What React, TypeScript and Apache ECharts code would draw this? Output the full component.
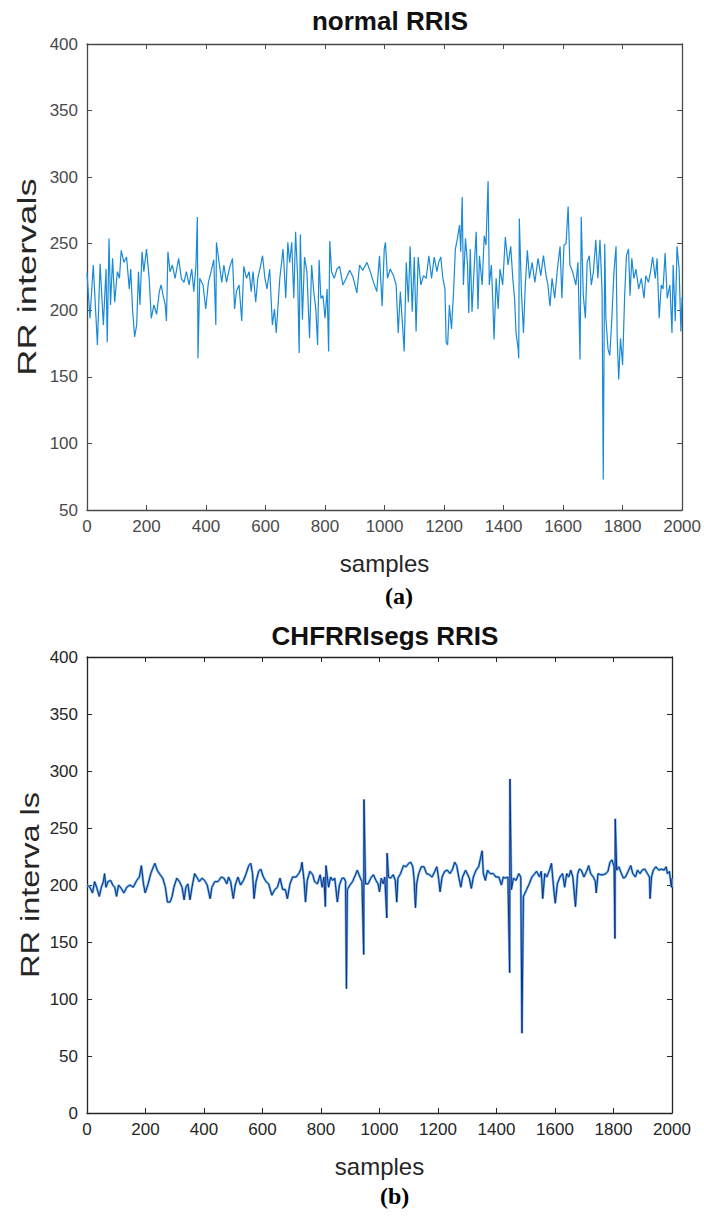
import React, { useEffect, useRef } from "react";
import * as echarts from "echarts";

// ---------- data ----------
const normalSamples = [
  0, 10, 21, 35, 44, 55, 64, 68, 74, 79, 86, 93, 102, 109, 115, 124, 133, 142, 147, 153,
  160, 167, 173, 178, 185, 191, 200, 209, 216, 225, 234, 243, 249, 256, 263, 267, 272, 279, 287, 296,
  308, 317, 326, 334, 343, 352, 359, 366, 371, 373, 379, 390, 399, 408, 417, 426, 433, 435, 444, 453,
  460, 469, 478, 489, 496, 502, 511, 520, 527, 536, 545, 552, 558, 567, 574, 581, 590, 598, 605, 614,
  623, 630, 636,
  648, 659, 668, 675, 681, 688, 695, 701, 708, 713, 717, 724, 731, 739, 748, 755, 762, 769, 775, 780,
  786, 793, 800, 807, 812, 816, 822, 831, 840, 849, 860, 871, 883, 894, 907, 916, 927, 941, 952, 963,
  974, 983, 992, 999, 1003, 1010, 1019, 1030, 1039, 1046, 1053, 1059, 1066, 1073, 1080, 1086, 1093, 1100, 1106, 1113,
  1122, 1131, 1140, 1149, 1158, 1167, 1176, 1182, 1189, 1196, 1203, 1207, 1212, 1218, 1225, 1232, 1238, 1245, 1252, 1256,
  1261, 1265, 1272, 1279, 1283, 1288, 1294, 1301, 1308, 1314,
  1319, 1328, 1335, 1341, 1348, 1352, 1359, 1364, 1368, 1375, 1382, 1388, 1397, 1406, 1415, 1424, 1431, 1437, 1442, 1449,
  1451, 1453, 1460, 1467, 1473, 1480, 1487, 1496, 1505, 1516, 1525, 1534, 1543, 1549, 1556, 1563, 1572, 1581, 1590, 1596,
  1603, 1610, 1617, 1623, 1632, 1643, 1650, 1657, 1661, 1668, 1675, 1681, 1688, 1695, 1702, 1710, 1717, 1724, 1731, 1735,
  1740, 1744, 1751, 1757, 1764, 1771, 1778, 1782, 1787, 1793, 1800, 1807, 1813, 1820, 1825, 1831, 1838, 1845, 1854, 1863,
  1872, 1878, 1887, 1894, 1901, 1910, 1916, 1923, 1930, 1936, 1943, 1950, 1959, 1966, 1970, 1977, 1983, 1990, 1996, 2000,
];
const normalRR = [
  228, 194, 234, 174, 235, 189, 231, 176, 254, 204, 239, 206, 229, 224, 245, 236, 240, 216, 231, 201,
  180, 189, 229, 204, 244, 229, 246, 224, 194, 204, 197, 214, 219, 211, 204, 192, 244, 229, 234, 224,
  239, 224, 221, 229, 219, 231, 214, 233, 270, 164, 224, 219, 201, 221, 229, 238, 189, 251, 236, 221,
  234, 221, 231, 239, 201, 214, 219, 192, 233, 224, 229, 214, 229, 206, 224, 231, 241, 224, 216, 231,
  189, 201, 183,
  224, 246, 209, 251, 236, 251, 209, 259, 224, 168, 257, 193, 240, 229, 179, 234, 214, 201, 174, 238,
  209, 211, 194, 216, 169, 252, 229, 224, 231, 233, 219, 224, 230, 225, 213, 234, 230, 236, 229, 221,
  214, 241, 203, 246, 251, 224, 231, 226, 219, 183, 214, 194, 169, 236, 206, 248, 199, 240, 184, 240,
  219, 226, 224, 241, 224, 240, 229, 236, 240, 224, 216, 176, 174, 204, 186, 214, 246, 254, 264, 244,
  285, 219, 254, 234, 198, 246, 199, 231, 259, 201,
  241, 219, 256, 249, 297, 219, 234, 206, 178, 224, 201, 231, 219, 255, 234, 248, 224, 209, 183, 171,
  164, 269, 214, 183, 219, 245, 224, 236, 221, 239, 226, 241, 226, 219, 203, 224, 209, 231, 248, 209,
  249, 250, 278, 234, 229, 219, 236, 163, 270, 211, 194, 236, 241, 219, 229, 253, 224, 253, 214, 73,
  250, 194, 171, 166, 194, 229, 248, 179, 148, 179, 159, 211, 241, 246, 211, 239, 224, 231, 216, 224,
  209, 226, 221, 229, 240, 224, 239, 194, 219, 216, 243, 209, 219, 183, 234, 192, 248, 231, 184, 210,
];

const chfSamples = [
  0, 10, 19, 26, 33, 42, 49, 56, 60, 65, 72, 81, 88, 95, 101, 108, 117, 126, 136, 147,
  158, 170, 179, 186, 193, 199, 209, 218, 227, 232, 240, 250, 259, 268, 275, 284, 291, 297, 307, 316,
  325, 332, 338, 345, 352, 359, 368, 375, 384, 393, 402, 411, 421, 427, 437, 448, 459, 468, 478, 484,
  491, 500, 507, 516, 525, 535, 544, 553, 560, 566, 571, 578, 587, 594, 603, 612, 621, 632, 642, 651,
  660, 669, 678, 685, 694, 703, 715, 724, 731, 735, 742, 747, 753, 762, 772, 778, 788, 797, 804, 810,
  815, 817, 826, 833, 840, 847, 856, 863, 872, 879, 884, 887, 890, 899, 908, 918, 924, 933, 940, 946,
  947, 952, 961, 970, 979, 988, 995, 1000, 1006, 1013, 1018, 1025, 1026, 1031, 1038, 1047, 1054, 1059, 1063, 1072,
  1082, 1091, 1100, 1107, 1114, 1118, 1123, 1127, 1134, 1143, 1152, 1161, 1171, 1180, 1189, 1196, 1202, 1207, 1214, 1223,
  1232, 1241, 1250, 1257, 1264, 1271, 1278, 1284, 1294, 1300, 1307, 1314, 1321, 1330, 1339,
  1344, 1351, 1355, 1362, 1369, 1378, 1389, 1398, 1408, 1417, 1423, 1430, 1439, 1445, 1446, 1451, 1458, 1467, 1476, 1483,
  1487, 1492, 1503, 1512, 1521, 1531, 1537, 1547, 1553, 1558, 1565, 1572, 1581, 1588, 1592, 1597, 1601, 1608, 1617, 1626,
  1633, 1640, 1647, 1654, 1661, 1670, 1677, 1683, 1690, 1699, 1708, 1715, 1722, 1731, 1738, 1741, 1747, 1756, 1765, 1774,
  1781, 1788, 1795, 1802, 1805, 1806, 1811, 1818, 1827, 1834, 1841, 1850, 1859, 1866, 1875, 1882, 1891, 1898, 1907, 1916,
  1923, 1925, 1930, 1936, 1945, 1955, 1964, 1973, 1980, 1984, 1991, 1998, 2000,
];
const chfRR = [
  200, 198, 193, 203, 198, 190, 198, 203, 210, 198, 203, 204, 200, 198, 190, 200, 197, 193, 198, 200,
  198, 204, 207, 217, 201, 193, 201, 210, 216, 219, 213, 209, 206, 198, 185, 185, 190, 198, 206, 203,
  198, 187, 198, 201, 187, 198, 210, 207, 203, 206, 204, 200, 188, 198, 203, 203, 207, 206, 201, 207,
  203, 188, 200, 207, 200, 204, 210, 217, 219, 210, 188, 203, 212, 214, 207, 203, 201, 191, 196, 198,
  206, 196, 196, 188, 201, 207, 207, 210, 214, 220, 204, 185, 204, 212, 209, 203, 201, 209, 198, 207,
  181, 217, 198, 207, 204, 206, 185, 200, 206, 206, 203, 109, 196, 200, 203, 209, 213, 207, 203, 139,
  275, 201, 201, 206, 209, 204, 201, 194, 206, 201, 207, 171, 228, 207, 206, 209, 204, 185, 206, 210,
  217, 216, 219, 220, 216, 206, 180, 201, 210, 216, 216, 210, 209, 207, 212, 216, 206, 194, 207, 212,
  213, 210, 214, 220, 217, 207, 198, 207, 213, 210, 206, 197, 207, 213, 216,
  222, 230, 210, 204, 213, 210, 210, 207, 207, 200, 207, 206, 207, 123, 293, 196, 206, 204, 210, 207,
  70, 190, 196, 201, 207, 210, 212, 207, 212, 188, 210, 207, 213, 219, 207, 193, 184, 201, 207, 210,
  198, 210, 207, 213, 207, 181, 209, 214, 213, 207, 212, 217, 210, 207, 203, 193, 210, 209, 209, 210,
  212, 220, 222, 216, 153, 258, 213, 216, 210, 206, 207, 212, 217, 210, 207, 213, 210, 213, 214, 210,
  207, 188, 207, 213, 216, 213, 214, 213, 216, 210, 212, 198, 206,
];

const xTickLabels = ["0", "200", "400", "600", "800", "1000", "1200", "1400", "1600", "1800", "2000"];
const titleA = "normal RRIS";
const titleB = "CHFRRIsegs RRIS";
const yNameA = "RR intervals";
const yNameB = "RR interva ls";
const xName = "samples";

const SANS = "'Liberation Sans', Arial, Helvetica, sans-serif";
const SERIF = "'Liberation Serif', 'Times New Roman', serif";

function pairs(xs: number[], ys: number[]) {
  return xs.map((x, i) => [x, ys[i]]);
}

function axisSet(grid: number, yMin: number, yMax: number, axisColor: string, labelColor: string) {
  const tick = { show: true, inside: true, length: 5, lineStyle: { color: axisColor, width: 1 } };
  const line = { show: true, onZero: false, lineStyle: { color: axisColor, width: 1.3 } };
  return {
    x: [
      {
        type: "value", gridIndex: grid, position: "bottom", min: 0, max: 2000, interval: 200,
        axisLine: line, axisTick: tick, splitLine: { show: false },
        axisLabel: {
          color: labelColor, fontSize: 17, fontFamily: SANS, margin: 8,
          formatter: (v: number) => xTickLabels[Math.round(v / 200)] ?? String(v),
        },
        name: xName, nameLocation: "middle", nameGap: 41,
        nameTextStyle: { fontSize: 24, color: "#262626", fontFamily: SANS },
      },
      {
        type: "value", gridIndex: grid, position: "top", min: 0, max: 2000, interval: 200,
        axisLine: line, axisTick: tick, splitLine: { show: false }, axisLabel: { show: false },
      },
    ],
    y: [
      {
        type: "value", gridIndex: grid, position: "left", min: yMin, max: yMax, interval: 50,
        axisLine: line, axisTick: tick, splitLine: { show: false },
        axisLabel: { color: labelColor, fontSize: 17, fontFamily: SANS, margin: 9 },
      },
      {
        type: "value", gridIndex: grid, position: "right", min: yMin, max: yMax, interval: 50,
        axisLine: line, axisTick: tick, splitLine: { show: false }, axisLabel: { show: false },
      },
    ],
  };
}

export default function App() {
  const ref = useRef<HTMLDivElement>(null);

  useEffect(() => {
    if (!ref.current) return;
    const chart = echarts.init(ref.current, null, { renderer: "svg" });
    const a = axisSet(0, 50, 400, "#4a4a4a", "#4a4a4a");
    const b = axisSet(1, 0, 400, "#262626", "#262626");
    const normalData = pairs(normalSamples, normalRR);
    const chfData = pairs(chfSamples, chfRR);

    chart.setOption({
      animation: false,
      backgroundColor: "#ffffff",
      title: [
        {
          text: titleA, left: 385, top: 3, textAlign: "center",
          textStyle: { fontSize: 26, fontWeight: "bold", color: "#111", fontFamily: SANS },
        },
        {
          text: titleB, left: 380, top: 618, textAlign: "center",
          textStyle: { fontSize: 26, fontWeight: "bold", color: "#111", fontFamily: SANS },
        },
      ],
      grid: [
        { left: 87, top: 44, width: 596, height: 466 },
        { left: 87, top: 657, width: 585, height: 456 },
      ],
      xAxis: [...a.x, ...b.x],
      yAxis: [...a.y, ...b.y],
      graphic: [
        {
          type: "text", x: 28, y: 277, rotation: Math.PI / 2, scaleX: 1.45,
          style: {
            text: yNameA, font: `25px ${SANS}`, fill: "#262626",
            textAlign: "center", textVerticalAlign: "middle",
          },
        },
        {
          type: "text", x: 30, y: 885, rotation: Math.PI / 2, scaleX: 1.3,
          style: {
            text: yNameB, font: `25px ${SANS}`, fill: "#262626",
            textAlign: "center", textVerticalAlign: "middle",
          },
        },
        {
          type: "text", left: 385, top: 584,
          style: { text: "(a)", font: `bold 24px ${SERIF}`, fill: "#000", textAlign: "center" },
        },
        {
          type: "text", left: 380, top: 1184,
          style: { text: "(b)", font: `bold 24px ${SERIF}`, fill: "#000", textAlign: "center" },
        },
      ],
      series: [
        {
          type: "line", xAxisIndex: 0, yAxisIndex: 0, data: normalData, showSymbol: false,
          lineStyle: { color: "#1a8ad6", width: 1.2 }, silent: true,
        },
        {
          type: "line", xAxisIndex: 2, yAxisIndex: 2, data: chfData, showSymbol: false,
          lineStyle: { color: "#5fb3ea", width: 2.4 }, silent: true,
        },
        {
          type: "line", xAxisIndex: 2, yAxisIndex: 2, data: chfData, showSymbol: false,
          lineStyle: { color: "#1b2b7e", width: 1 }, silent: true,
        },
      ],
    });
    return () => chart.dispose();
  }, []);

  return (
    <div
      ref={ref}
      style={{ position: "absolute", left: 0, top: 0, width: 704, height: 1218, background: "#fff" }}
    />
  );
}
